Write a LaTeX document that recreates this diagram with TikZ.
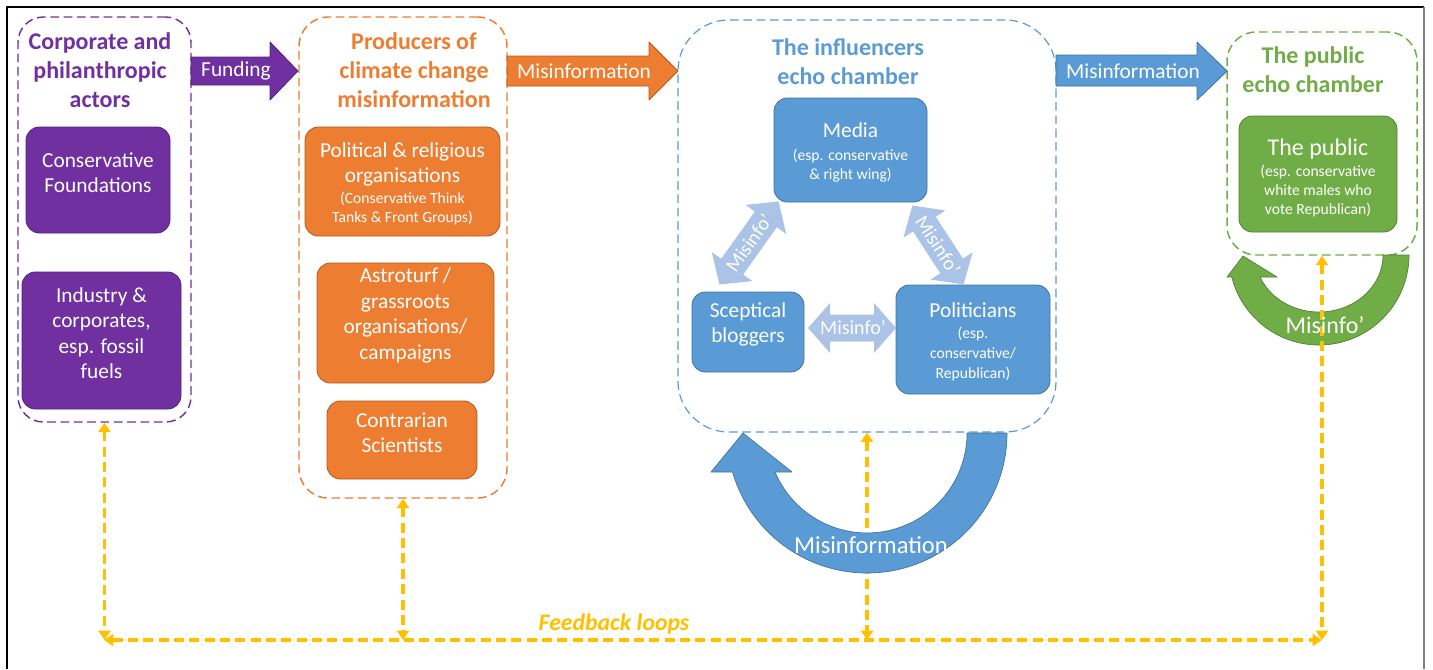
\documentclass[tikz,border=0pt]{standalone}
\usepackage{fontspec}
\setmainfont{Carlito}
\usetikzlibrary{arrows.meta,fit}
\definecolor{cpurple}{HTML}{7030A0}
\definecolor{cpurpleD}{HTML}{52237A}
\definecolor{corange}{HTML}{ED7D31}
\definecolor{corangeD}{HTML}{AE5A21}
\definecolor{cblue}{HTML}{5B9BD5}
\definecolor{cblueD}{HTML}{41719C}
\definecolor{cgreen}{HTML}{70AD47}
\definecolor{cgreenD}{HTML}{507E32}
\definecolor{cyellow}{HTML}{FFC000}
\definecolor{clight}{RGB}{170,195,230}
\newcommand{\fsBig}{\fontsize{16}{19.2}\selectfont}
\newcommand{\fsSmall}{\fontsize{11.7}{14.2}\selectfont}
\newcommand{\fsTitle}{\fontsize{18}{21.75}\selectfont\bfseries}
\newcommand{\fsMid}{\fontsize{15}{17}\selectfont}
\newcommand{\dblarr}[5]{%
  \begin{scope}[shift={(#1)}, rotate=#2]
    \fill[clight] (-#3,0) -- (-#3+22,-#4) -- (-#3+22,-#5) -- (#3-22,-#5) -- (#3-22,-#4) -- (#3,0)
      -- (#3-22,#4) -- (#3-22,#5) -- (-#3+22,#5) -- (-#3+22,#4) -- cycle;
  \end{scope}}
\begin{document}
\begin{tikzpicture}[x=0.75pt, y=-0.75pt, line join=round,
  container/.style={dash pattern=on 6.5pt off 3.5pt, line width=1.1pt, inner sep=0pt},
  box/.style={rounded corners=10pt, inner sep=0pt, text=white, align=center, font=\fsBig, line width=0.6pt},
  boxtext/.style={inner sep=0pt, text=white, align=center, font=\fsBig},
  title/.style={align=center, font=\fsTitle, inner sep=0pt},
  arrtext/.style={text=white, font=\fsBig, inner sep=0pt},
  fb/.style={draw=cyellow, line width=2.6pt, dash pattern=on 7.5pt off 4pt,
    {Triangle[width=9pt,length=7pt]}-{Triangle[width=9pt,length=7pt]}}]
\useasboundingbox (0,0) rectangle (1433,669);
% frame
\draw[line width=1.5pt, black] (7,669) -- (7,7) -- (1424,7);
\draw[line width=1pt, gray] (1424,7) -- (1424,669);

% containers
\node[container, draw=cpurple, rounded corners=19pt, fit={(18,17)(191,422)}] (pc) {};
\node[container, draw=corange, rounded corners=22pt, fit={(299,17)(507,498)}] (oc) {};
\node[container, draw=cblue, rounded corners=38pt, line width=0.9pt, fit={(678,20)(1056,432)}] (bc) {};
\node[container, draw=cgreen, rounded corners=22pt, fit={(1227,32)(1417,255)}] (gc) {};

% titles
\node[title, text=cpurple] (pt) at (100,70) {Corporate and\\philanthropic\\actors};
\node[title, text=corange] (ot) at (414,70) {Producers of\\climate change\\misinformation};
\node[title, text=cblue] (bt) at (848,62) {The influencers\\echo chamber};
\node[title, text=cgreen] (gt) at (1313,70) {The public\\echo chamber};

% boxes
\node[box, fill=cpurple, draw=cpurpleD, fit={(26,127)(170,233)}] (cf) {Conservative\\Foundations};
\node[box, fill=cpurple, draw=cpurpleD, fit={(22,272)(181,409)}] (ind) {Industry \&\\corporates,\\esp. fossil\\fuels};
\node[box, fill=corange, draw=corangeD, fit={(305,127)(500,236)}] (pol) {};
\node[boxtext] (polT) at ([yshift=-1.8pt]pol.center) {Political \& religious\\organisations\\[-3.5pt]{\fsSmall (Conservative Think}\\[-5pt]{\fsSmall Tanks \& Front Groups)}};
\node[box, fill=corange, draw=corangeD, fit={(317,263)(494,383)}] (astro) {Astroturf /\\grassroots\\organisations/\\campaigns};
\node[box, fill=corange, draw=corangeD, fit={(327,401)(477,479)}] (contra) {Contrarian\\Scientists};
\node[box, fill=cblue, draw=cblueD, fit={(774,98)(927,202)}] (media) {};
\node[boxtext] (mediaT) at ([yshift=-1.8pt]media.center) {Media\\[-2pt]{\fsSmall (esp. conservative}\\[-5pt]{\fsSmall \& right wing)}};
\node[box, fill=cblue, draw=cblueD, fit={(692,292)(804,372)}] (blog) {Sceptical\\bloggers};
\node[box, fill=cblue, draw=cblueD, fit={(896,285)(1050,394)}] (polit) {};
\node[boxtext] (politT) at ([yshift=-1.5pt]polit.center) {Politicians\\[-3.5pt]{\fsSmall (esp.}\\[-4.2pt]{\fsSmall conservative/}\\[-4.2pt]{\fsSmall Republican)}};
\node[box, fill=cgreen, draw=cgreenD, fit={(1239,116)(1397,232)}] (pub) {};
\node[boxtext] (pubT) at ([yshift=-3pt]pub.center) {{\fontsize{18}{20}\selectfont The public}\\[-3.5pt]{\fsSmall (esp. conservative}\\[-5pt]{\fsSmall white males who}\\[-5pt]{\fsSmall vote Republican)}};

% block arrows
\filldraw[fill=cpurple, draw=cpurpleD, line width=0.6pt] (191,57) -- (270,57) -- (270,42) -- (298,71) -- (270,100) -- (270,85) -- (191,85) -- cycle;
\node[arrtext] (fund) at (236,71) {Funding};
\filldraw[fill=corange, draw=corangeD, line width=0.6pt] (507,56) -- (649,56) -- (649,42) -- (678,71) -- (649,100) -- (649,86) -- (507,86) -- cycle;
\node[arrtext] (mis1) at (584,71) {Misinformation};
\filldraw[fill=cblue, draw=cblueD, line width=0.6pt] (1056,55) -- (1197,55) -- (1197,42) -- (1227,71) -- (1197,100) -- (1197,86) -- (1056,86) -- cycle;
\node[arrtext] (mis2) at (1133,71) {Misinformation};

% light double arrows
\dblarr{749,243}{54.5}{51}{25}{13.5}
\dblarr{938,245}{-57}{47}{25}{13.5}
\dblarr{852,328}{0}{44}{25}{13.5}
\node[rotate=54.5, text=white, font=\fsMid, inner sep=0pt] (mi1) at (749,243) {Misinfo’};
\node[rotate=-57, text=white, font=\fsMid, inner sep=0pt] (mi2) at (938,245) {Misinfo’};
\node[text=white, font=\fsMid, inner sep=0pt] (mi3) at (853,328) {Misinfo’};

% green circular arrow
\filldraw[fill=cgreen, draw=cgreenD, line width=0.5pt] (1409,255) arc[start angle=0, end angle=165.9, radius=90]
  -- (1227,277) -- (1243,256) -- (1277,277) -- (1260,277)
  arc[start angle=157.3, end angle=0, x radius=64, y radius=57] -- cycle;

% feedback loops
\coordinate (fbL) at (104,640);
\coordinate (fbR) at (1322,640);
\draw[fb] (fbL) -- (fbR);
\draw[fb] (pc.south) -- (pc.south |- fbL);
\draw[fb] (oc.south) -- (oc.south |- fbL);
\draw[fb] (bc.south) -- (bc.south |- fbL);
\draw[fb] (gc.south) -- (gc.south |- fbL);
\node[text=cyellow, font=\fontsize{17.8}{20}\selectfont\bfseries\itshape, inner sep=0pt] (fbt) at (614,624) {Feedback loops};

\node[text=white, font=\fontsize{18}{20}\selectfont, inner sep=0pt] (gmis) at (1325,325) {Misinfo’};

% blue circular arrow
\filldraw[fill=cblue, draw=cblueD, line width=0.5pt] (1007,433) arc[start angle=0, end angle=163.8, radius=140]
  -- (711,472) -- (743,433) -- (792,472) -- (775,472)
  arc[start angle=157, end angle=0, radius=100] -- cycle;
\node[text=white, font=\fontsize{18.4}{21}\selectfont, inner sep=0pt] (bmis) at (871,545) {Misinformation};
\end{tikzpicture}
\end{document}
